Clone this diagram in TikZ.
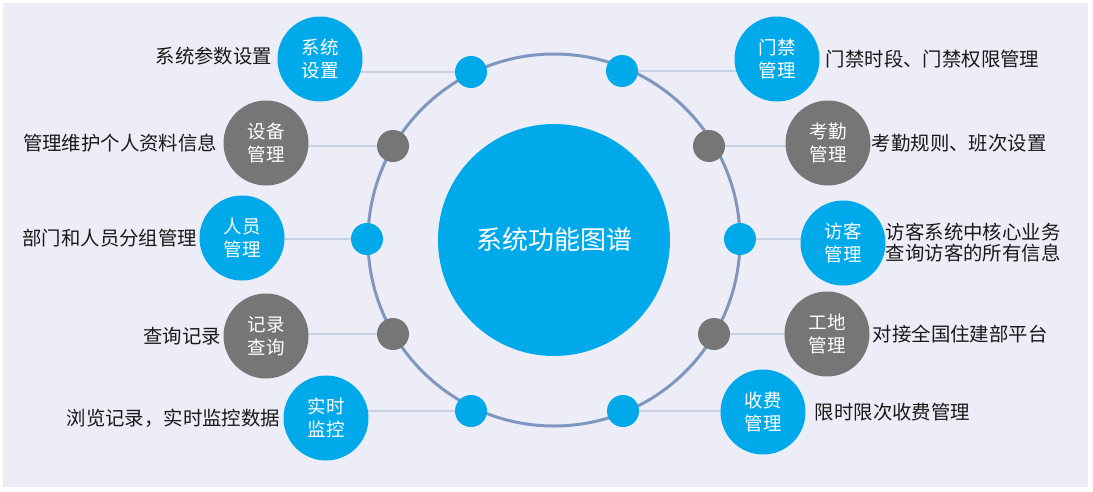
\documentclass[tikz,border=0pt]{standalone}
\usepackage{fontspec}
\newfontfamily\cjk{Noto Sans CJK SC}
\usetikzlibrary{positioning,backgrounds}
\definecolor{hubblue}{HTML}{00A9E9}
\definecolor{hubgrey}{HTML}{767676}
\definecolor{ringblue}{HTML}{7F97BF}
\definecolor{linkgrey}{HTML}{C8D1E1}
\definecolor{paper}{HTML}{EDEDF7}
\newcommand{\labfont}{\cjk\fontsize{18.5}{23}\selectfont}
\newcommand{\descfont}{\cjk\fontsize{19.4}{21}\selectfont}
\newcommand{\corefont}{\cjk\fontsize{26}{30}\selectfont}
\newcommand{\dotd}{32pt}
\newcommand{\labd}{85pt}
\newcommand{\cored}{232pt}
\newcommand{\ringr}{186pt}
\newcommand{\xgap}{3pt}

\begin{document}
\begin{tikzpicture}[x=1pt, y=-1pt, node distance=\xgap,
  dot/.style={circle, minimum size=\dotd, inner sep=0pt},
  lab/.style={circle, minimum size=\labd, inner sep=0pt, align=center,
    text=white, font=\labfont},
  desc/.style={inner sep=0pt, align=left, text=black!90, font=\descfont}]

  % page with its thin white frame
  \useasboundingbox (0,0) rectangle (1093,491);

  % centre
  \node [circle,
  minimum size=\cored,
  inner sep=0pt,
  fill=hubblue,
  text=white,
  font=\corefont] (core) at (554,240) {系统功能图谱};

  % dots on the ring, left half
  \node [dot, fill=hubblue] (dsys) at (471,72) {};
  \node [dot, fill=hubgrey] (ddev) at (393,146) {};
  \node [dot, fill=hubblue] (dper) at (367,239) {};
  \node [dot, fill=hubgrey] (drec) at (393,334) {};
  \node [dot, fill=hubblue] (dmon) at (471,411) {};

  % dots on the ring, right half
  \node [dot, fill=hubblue] (dgate) at (622,71) {};
  \node [dot, fill=hubgrey] (datt) at (709,146) {};
  \node [dot, fill=hubblue] (dvis) at (740,239) {};
  \node [dot, fill=hubgrey] (dsite) at (714,334) {};
  \node [dot, fill=hubblue] (dfee) at (623,411) {};

  % labels, left half
  \node [lab, fill=hubblue] (lsys) at (320,59) {系统\\设置};
  \node [lab, fill=hubgrey] (ldev) at (266,143) {设备\\管理};
  \node [lab, fill=hubblue] (lper) at (242,238) {人员\\管理};
  \node [lab, fill=hubgrey] (lrec) at (266,336) {记录\\查询};
  \node [lab, fill=hubblue] (lmon) at (326,418) {实时\\监控};

  % labels, right half
  \node [lab, fill=hubblue] (lgate) at (777,59) {门禁\\管理};
  \node [lab, fill=hubgrey] (latt) at (828,143) {考勤\\管理};
  \node [lab, fill=hubblue] (lvis) at (843,243) {访客\\管理};
  \node [lab, fill=hubgrey] (lsite) at (827,334) {工地\\管理};
  \node [lab, fill=hubblue] (lfee) at (763,412) {收费\\管理};

  % descriptions
  \node [desc, left=5pt of lsys, yshift=3pt] (tsys) {系统参数设置};
  \node [desc, left=6pt of ldev] (tdev) {管理维护个人资料信息};
  \node [desc, left=2pt of lper] (tper) {部门和人员分组管理};
  \node [desc, left=2pt of lrec] (trec) {查询记录};
  \node [desc, left=3pt of lmon] (tmon) {浏览记录，实时监控数据};
  \node [desc, right=6pt of lgate] (tgate) {门禁时段、门禁权限管理};
  \node [desc, right=1pt of latt] (tatt) {考勤规则、班次设置};
  \node [desc, right=0pt of lvis] (tvis) {访客系统中核心业务\\查询访客的所有信息};
  \node [desc, right=3pt of lsite] (tsite) {对接全国住建部平台};
  \node [desc, right=9pt of lfee] (tfee) {限时限次收费管理};

  \begin{pgfonlayer}{background}
    % paper
    \fill [white] (0,0) rectangle (1093,491);
    \fill [paper] (3,3) rectangle (1088,487);

    % ring
    \draw [ringblue, line width=3pt] (core) circle [radius=\ringr];

    % links between dots and labels
    \foreach \d/\l in {dsys/lsys, ddev/ldev, dper/lper, drec/lrec, dmon/lmon,
      dgate/lgate, datt/latt, dvis/lvis, dsite/lsite, dfee/lfee}
      \draw [linkgrey, line width=2pt] (\d) -- (\d -| \l);
  \end{pgfonlayer}

\end{tikzpicture}
\end{document}
